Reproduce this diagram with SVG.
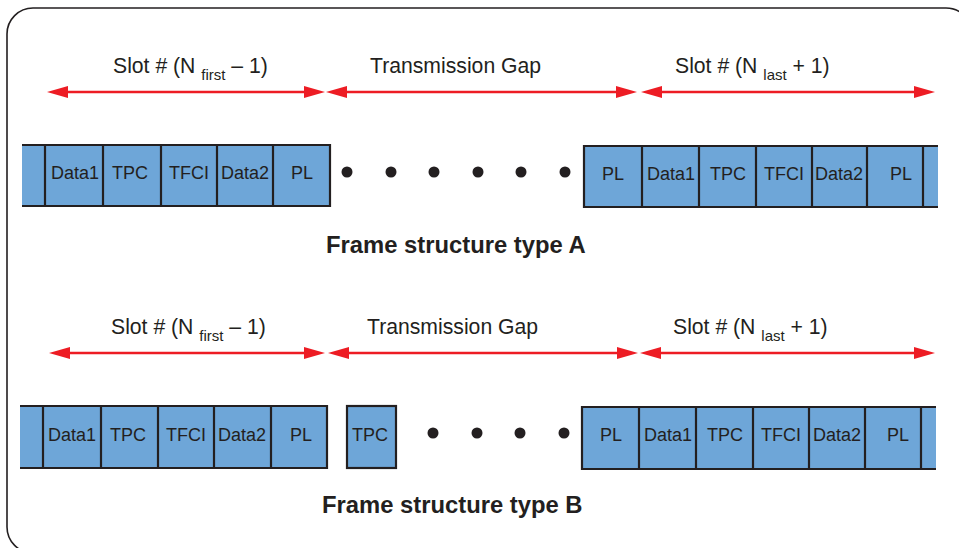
<svg xmlns="http://www.w3.org/2000/svg" width="959" height="548" viewBox="0 0 959 548">
  <style>
    .frame { fill: none; stroke: #231f20; stroke-width: 1.6; }
    .cell { fill: #6ea6d8; stroke: none; }
    .edge { fill: none; stroke: #231f20; stroke-width: 2.2; }
    .lbl { font-family: "Liberation Sans", Arial, sans-serif; font-size: 21.2px; fill: #231f20; }
    .sub { font-size: 15px; }
    .ctxt { font-family: "Liberation Sans", Arial, sans-serif; font-size: 18px; fill: #231f20; text-anchor: middle; }
    .title { font-family: "Liberation Sans", Arial, sans-serif; font-size: 23.8px; font-weight: bold; fill: #231f20; }
    .arrow { stroke: #ed1c24; stroke-width: 2.5; fill: none; marker-start: url(#head); marker-end: url(#head); }
    .dot { fill: #231f20; }
  </style>
  <defs>
    <marker id="head" markerUnits="userSpaceOnUse" markerWidth="21" markerHeight="12" refX="11" refY="6" orient="auto-start-reverse" viewBox="0 0 21 12">
      <path d="M0,0 L21,6 L0,12 Z" fill="#ed1c24"/>
    </marker>
  </defs>

  <!-- outer rounded frame -->
  <rect class="frame" x="7" y="8" width="965" height="545" rx="26" ry="26"/>

  <!-- ===== Frame structure type A ===== -->
  <g id="a-slot-first">
    <rect class="cell" x="22" y="145" width="308" height="61"/>
    <path class="edge" d="M22,145 H330 V206 H22 M45,145 V206 M103,145 V206 M161,145 V206 M217,145 V206 M273,145 V206"/>
    <text class="ctxt" x="75" y="179">Data1</text>
    <text class="ctxt" x="130" y="179">TPC</text>
    <text class="ctxt" x="189" y="179">TFCI</text>
    <text class="ctxt" x="245" y="179">Data2</text>
    <text class="ctxt" x="302" y="179">PL</text>
  </g>

  <g id="a-gap-dots">
    <circle class="dot" cx="347" cy="172" r="5.5"/>
    <circle class="dot" cx="391" cy="172" r="5.5"/>
    <circle class="dot" cx="434" cy="172" r="5.5"/>
    <circle class="dot" cx="478" cy="172" r="5.5"/>
    <circle class="dot" cx="521" cy="172" r="5.5"/>
    <circle class="dot" cx="565" cy="172" r="5.5"/>
  </g>

  <g id="a-slot-last">
    <rect class="cell" x="584" y="146" width="354" height="61"/>
    <path class="edge" d="M938,146 H584 V207 H938 M642,146 V207 M699,146 V207 M756,146 V207 M812,146 V207 M867,146 V207 M923,146 V207"/>
    <text class="ctxt" x="613" y="180">PL</text>
    <text class="ctxt" x="671" y="180">Data1</text>
    <text class="ctxt" x="728" y="180">TPC</text>
    <text class="ctxt" x="784" y="180">TFCI</text>
    <text class="ctxt" x="839" y="180">Data2</text>
    <text class="ctxt" x="901" y="180">PL</text>
  </g>

  <g id="a-labels">
    <text class="lbl" x="113" y="73">Slot # (N <tspan class="sub" dy="7">first</tspan><tspan dy="-7"> – 1)</tspan></text>
    <text class="lbl" x="370" y="73">Transmission Gap</text>
    <text class="lbl" x="675" y="73">Slot # (N <tspan class="sub" dy="7">last</tspan><tspan dy="-7"> + 1)</tspan></text>
  </g>

  <g id="a-title">
    <text class="title" x="326" y="253">Frame structure type A</text>
  </g>

  <!-- ===== Frame structure type B ===== -->
  <g id="b-slot-first">
    <rect class="cell" x="20" y="406" width="307" height="62"/>
    <path class="edge" d="M20,406 H327 V468 H20 M43,406 V468 M101,406 V468 M158,406 V468 M214,406 V468 M271,406 V468"/>
    <text class="ctxt" x="72" y="441">Data1</text>
    <text class="ctxt" x="128" y="441">TPC</text>
    <text class="ctxt" x="186" y="441">TFCI</text>
    <text class="ctxt" x="242" y="441">Data2</text>
    <text class="ctxt" x="301" y="441">PL</text>
  </g>

  <g id="b-tpc">
    <rect class="cell" x="347" y="406" width="49" height="62"/>
    <rect class="edge" x="347" y="406" width="49" height="62"/>
    <text class="ctxt" x="370" y="441">TPC</text>
  </g>

  <g id="b-gap-dots">
    <circle class="dot" cx="433" cy="433" r="5.5"/>
    <circle class="dot" cx="477" cy="433" r="5.5"/>
    <circle class="dot" cx="520" cy="433" r="5.5"/>
    <circle class="dot" cx="564" cy="433" r="5.5"/>
  </g>

  <g id="b-slot-last">
    <rect class="cell" x="582" y="407" width="354" height="62"/>
    <path class="edge" d="M936,407 H582 V469 H936 M639,407 V469 M696,407 V469 M753,407 V469 M809,407 V469 M865,407 V469 M921,407 V469"/>
    <text class="ctxt" x="611" y="441">PL</text>
    <text class="ctxt" x="668" y="441">Data1</text>
    <text class="ctxt" x="725" y="441">TPC</text>
    <text class="ctxt" x="781" y="441">TFCI</text>
    <text class="ctxt" x="837" y="441">Data2</text>
    <text class="ctxt" x="898" y="441">PL</text>
  </g>

  <g id="b-labels">
    <text class="lbl" x="111" y="334">Slot # (N <tspan class="sub" dy="7">first</tspan><tspan dy="-7"> – 1)</tspan></text>
    <text class="lbl" x="367" y="334">Transmission Gap</text>
    <text class="lbl" x="673" y="334">Slot # (N <tspan class="sub" dy="7">last</tspan><tspan dy="-7"> + 1)</tspan></text>
  </g>

  <g id="b-title">
    <text class="title" x="322" y="513">Frame structure type B</text>
  </g>

  <!-- span arrows -->
  <g id="connectors">
    <line class="arrow" x1="57" y1="92" x2="315" y2="92"/>
    <line class="arrow" x1="336" y1="92" x2="627" y2="92"/>
    <line class="arrow" x1="651" y1="92" x2="925" y2="92"/>
    <line class="arrow" x1="59" y1="353" x2="315" y2="353"/>
    <line class="arrow" x1="338" y1="353" x2="628" y2="353"/>
    <line class="arrow" x1="650" y1="353" x2="925" y2="353"/>
  </g>
</svg>
